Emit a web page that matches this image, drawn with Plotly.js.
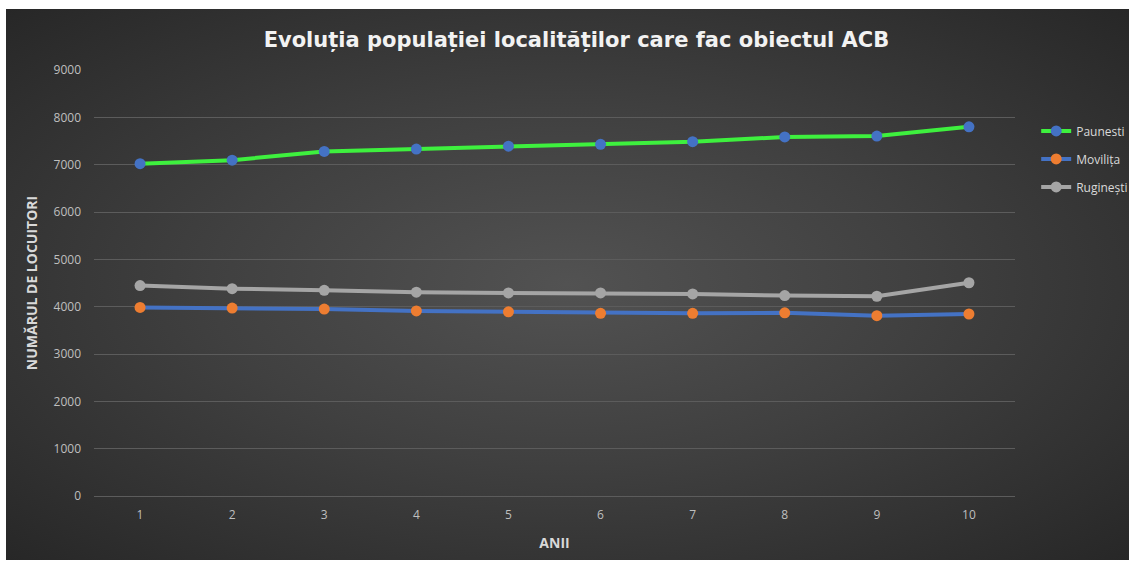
<!DOCTYPE html>
<html>
<head>
<meta charset="utf-8">
<script src="https://cdn.plot.ly/plotly-3.0.1.min.js"></script>
<style>
  html, body { margin: 0; padding: 0; background: #ffffff; width: 1129px; height: 562px; overflow: hidden; }
  #chart {
    position: absolute; left: 6px; top: 9px; width: 1123px; height: 551px;
    background: radial-gradient(ellipse at 50% 50%, #525252 0%, #404040 45%, #272727 100%);
  }
</style>
</head>
<body>
<div id="chart"></div>
<script>
const years = ["1", "2", "3", "4", "5", "6", "7", "8", "9", "10"];
const paunesti = [7020, 7095, 7280, 7330, 7390, 7430, 7485, 7585, 7605, 7800];
const movilita = [3985, 3970, 3950, 3910, 3890, 3860, 3860, 3870, 3810, 3845];
const ruginesti = [4445, 4380, 4345, 4305, 4290, 4290, 4270, 4235, 4220, 4505];
const yTicks = [0, 1000, 2000, 3000, 4000, 5000, 6000, 7000, 8000, 9000];

const traces = [
  {
    x: years, y: paunesti, name: "Paunesti", type: "scatter", mode: "lines+markers",
    legendgroup: "a",
    line: { color: "#3ef03e", width: 4 },
    marker: { color: "#4472c4", size: 11 }
  },
  {
    x: years, y: movilita, name: "Movilița", type: "scatter", mode: "lines+markers",
    legendgroup: "b",
    line: { color: "#4472c4", width: 4 },
    marker: { color: "#ed7d31", size: 11 }
  },
  {
    x: years, y: ruginesti, name: "Ruginești", type: "scatter", mode: "lines+markers",
    legendgroup: "c",
    line: { color: "#a5a5a5", width: 4 },
    marker: { color: "#a5a5a5", size: 11 }
  }
];

const layout = {
  width: 1123, height: 551,
  paper_bgcolor: "rgba(0,0,0,0)",
  plot_bgcolor: "rgba(0,0,0,0)",
  margin: { l: 88, r: 114, t: 61, b: 64, autoexpand: false },
  font: { family: "Open Sans, sans-serif", color: "#bfbfbf" },
  title: {
    text: "<b>Evoluția populației localităților care fac obiectul ACB</b>",
    font: { family: "DejaVu Sans, sans-serif", size: 21, color: "#f2f2f2" },
    x: 0.508, xanchor: "center", y: 0.945, yanchor: "middle"
  },
  showlegend: true,
  legend: {
    x: 1.023, xanchor: "left", y: 0.891, yanchor: "top",
    font: { family: "Open Sans, sans-serif", size: 12, color: "#d9d9d9" },
    bgcolor: "rgba(0,0,0,0)", traceorder: "grouped", tracegroupgap: 9, itemwidth: 30
  },
  xaxis: {
    type: "category",
    range: [-0.5, 9.5], autorange: false,
    tickvals: years, ticktext: years,
    showgrid: false, zeroline: false, showline: false, ticks: "",
    ticklabelstandoff: 10,
    tickfont: { size: 12, color: "#bfbfbf" },
    title: { text: "<b>ANII</b>", font: { size: 14, color: "#d9d9d9" }, standoff: 16 }
  },
  yaxis: {
    range: [0, 9000], autorange: false, tickvals: yTicks, ticktext: yTicks.map(String),
    showgrid: true, gridcolor: "#5c5c5c", gridwidth: 1,
    zeroline: true, zerolinecolor: "#5c5c5c", zerolinewidth: 1,
    showline: false, ticks: "", ticklen: 0,
    ticklabelstandoff: 12,
    tickfont: { size: 12, color: "#bfbfbf" },
    title: { text: "<b>NUMĂRUL DE LOCUITORI</b>", font: { size: 14, color: "#d9d9d9" }, standoff: 12 }
  }
};

Plotly.newPlot("chart", traces, layout, { displayModeBar: false, staticPlot: true });
</script>
</body>
</html>
